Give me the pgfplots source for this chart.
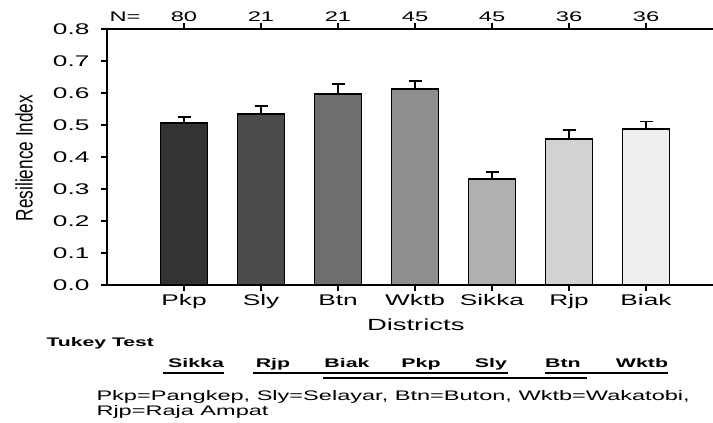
\documentclass[border=0pt]{standalone}
\usepackage{fontspec}
\setmainfont{Liberation Sans}[FakeStretch=1.7]
\newfontfamily\plainfont{Liberation Sans}
\usepackage{pgfplots}
\pgfplotsset{compat=1.18}

\definecolor{gPkp}{HTML}{333333}
\definecolor{gSly}{HTML}{4B4B4B}
\definecolor{gBtn}{HTML}{6E6E6E}
\definecolor{gWktb}{HTML}{8E8E8E}
\definecolor{gSikka}{HTML}{B0B0B0}
\definecolor{gRjp}{HTML}{D2D2D2}
\definecolor{gBiak}{HTML}{EFEFEF}

\pgfplotsset{
  distbar/.style={
    ybar, bar width=47bp, bar shift=0pt,
    draw=black, line width=1.9bp,
    error bars/y dir=plus, error bars/y explicit,
    error bars/error bar style={line width=1.7bp, black},
    error bars/error mark options={rotate=90, mark size=6.5bp, line width=1.7bp, black}
  },
  tukeyline/.style={black, line width=1.9bp, forget plot}
}

\begin{document}
\begin{tikzpicture}
\begin{axis}[
  scale only axis, width=606bp, height=256bp,
  xmin=-1, xmax=6.87, ymin=0, ymax=0.8,
  axis x line*=box, axis y line*=left,
  axis line style={line width=1.7bp, black},
  xtick={0,1,2,3,4,5,6},
  xticklabels={Pkp,Sly,Btn,Wktb,Sikka,Rjp,Biak},
  ytick={0,0.1,0.2,0.3,0.4,0.5,0.6,0.7,0.8},
  yticklabel shift=8bp,
  yticklabel style={/pgf/number format/fixed, /pgf/number format/fixed zerofill, /pgf/number format/precision=1},
  /pgf/number format/assume math mode=true,
  tick align=outside,
  major tick length=6bp,
  tick style={black, line width=1.5bp},
  tick label style={font=\fontsize{15.5}{17}\selectfont},
  clip=false,
]
% bars: mean +- error (upper only)
\addplot[distbar, fill=gPkp]   coordinates {(0,0.505) +- (0,0.021)};
\addplot[distbar, fill=gSly]   coordinates {(1,0.534) +- (0,0.026)};
\addplot[distbar, fill=gBtn]   coordinates {(2,0.597) +- (0,0.031)};
\addplot[distbar, fill=gWktb]  coordinates {(3,0.612) +- (0,0.026)};
\addplot[distbar, fill=gSikka] coordinates {(4,0.331) +- (0,0.022)};
\addplot[distbar, fill=gRjp]   coordinates {(5,0.457) +- (0,0.028)};
\addplot[distbar, fill=gBiak]  coordinates {(6,0.488) +- (0,0.023)};

% N per district
\node[font=\fontsize{14}{16}\selectfont] at (axis cs:-0.766,0.839) {N=};
\node[font=\fontsize{14}{16}\selectfont] at (axis cs:0,0.839) {80};
\node[font=\fontsize{14}{16}\selectfont] at (axis cs:1,0.839) {21};
\node[font=\fontsize{14}{16}\selectfont] at (axis cs:2,0.839) {21};
\node[font=\fontsize{14}{16}\selectfont] at (axis cs:3,0.839) {45};
\node[font=\fontsize{14}{16}\selectfont] at (axis cs:4,0.839) {45};
\node[font=\fontsize{14}{16}\selectfont] at (axis cs:5,0.839) {36};
\node[font=\fontsize{14}{16}\selectfont] at (axis cs:6,0.839) {36};

% axis titles
\node[rotate=90] at (axis cs:-2.078,0.397) {\scalebox{0.72}[1]{\fontsize{24}{28}\plainfont Resilience Index}};
\node[font=\fontsize{16.2}{18}\selectfont] at (axis cs:3.01,-0.125) {Districts};

% Tukey test
\node[anchor=base west, font=\bfseries\fontsize{12.5}{14}\selectfont] at (axis cs:-1.831,-0.191) {Tukey Test};
\node[anchor=base, font=\bfseries\fontsize{12.6}{14}\selectfont] at (axis cs:0.156,-0.259) {Sikka};
\node[anchor=base, font=\bfseries\fontsize{12.6}{14}\selectfont] at (axis cs:1.156,-0.259) {Rjp};
\node[anchor=base, font=\bfseries\fontsize{12.6}{14}\selectfont] at (axis cs:2.117,-0.259) {Biak};
\node[anchor=base, font=\bfseries\fontsize{12.6}{14}\selectfont] at (axis cs:3.078,-0.259) {Pkp};
\node[anchor=base, font=\bfseries\fontsize{12.6}{14}\selectfont] at (axis cs:3.987,-0.259) {Sly};
\node[anchor=base, font=\bfseries\fontsize{12.6}{14}\selectfont] at (axis cs:4.922,-0.259) {Btn};
\node[anchor=base, font=\bfseries\fontsize{12.6}{14}\selectfont] at (axis cs:5.948,-0.259) {Wktb};
\addplot[tukeyline] coordinates {(-0.273,-0.275) (0.519,-0.275)};
\addplot[tukeyline] coordinates {(0.896,-0.275) (4.208,-0.275)};
\addplot[tukeyline] coordinates {(1.805,-0.291) (5.234,-0.291)};
\addplot[tukeyline] coordinates {(4.688,-0.275) (6.286,-0.275)};

% abbreviations
\node[anchor=base west, font=\fontsize{13.9}{16}\selectfont] at (axis cs:-1.182,-0.3625) {Pkp=Pangkep, Sly=Selayar, Btn=Buton, Wktb=Wakatobi,};
\node[anchor=base west, font=\fontsize{13.9}{16}\selectfont] at (axis cs:-1.182,-0.409) {Rjp=Raja Ampat};

\coordinate (bl) at (axis cs:-2.3896,-0.43125);
\coordinate (tr) at (axis cs:6.8701,0.890625);
\end{axis}
\pgfresetboundingbox
\path[use as bounding box] (bl) rectangle (tr);
\end{tikzpicture}
\end{document}
